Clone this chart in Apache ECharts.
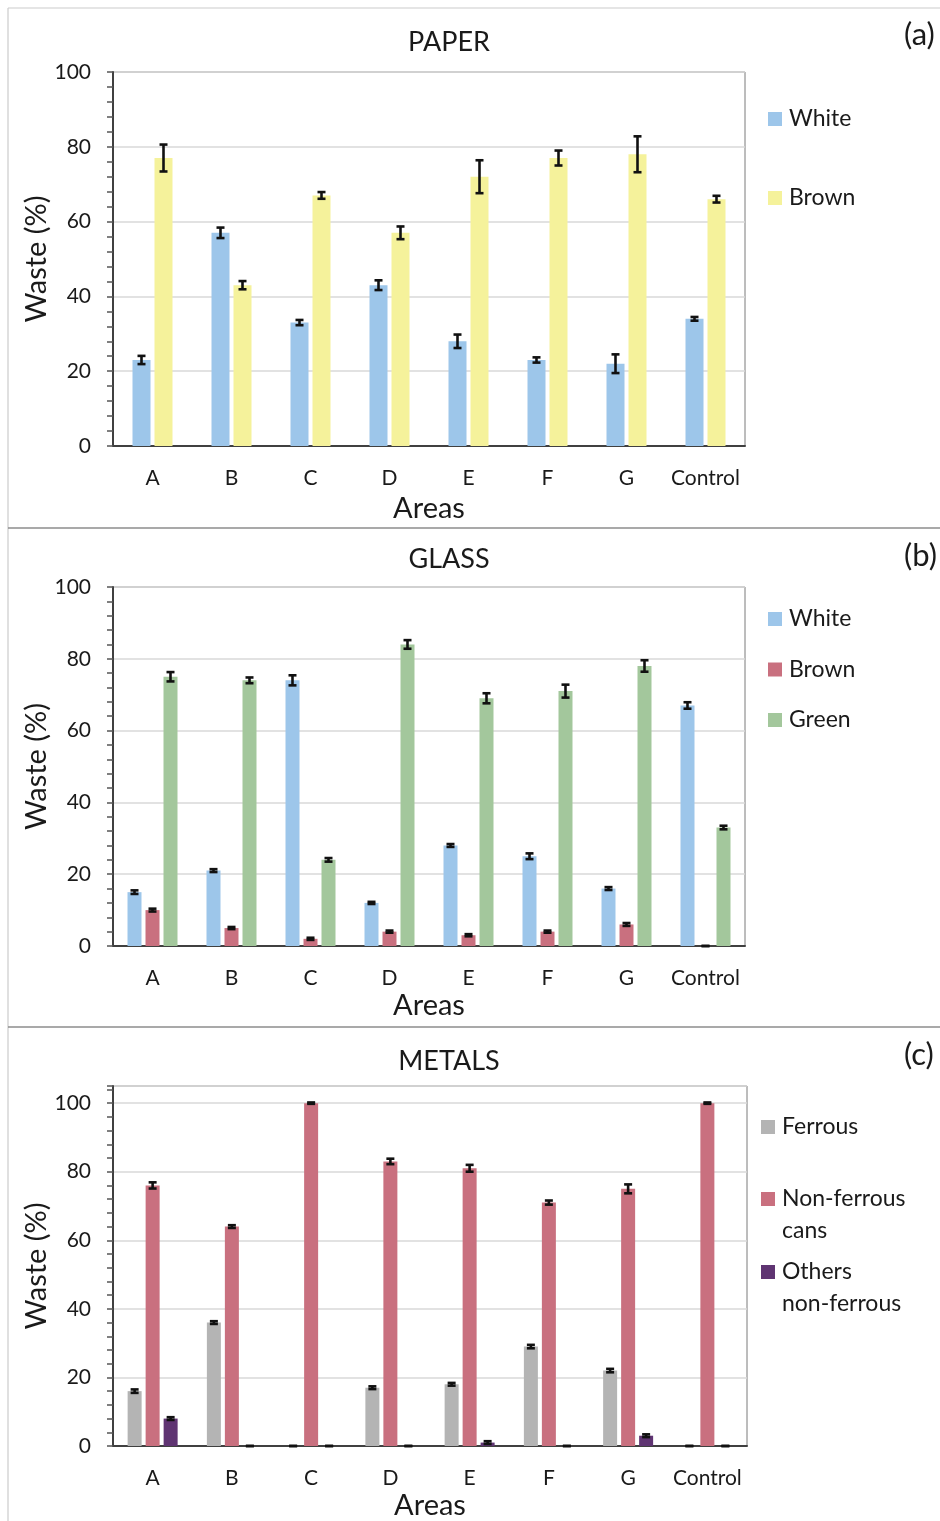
<!DOCTYPE html>
<html>
<head>
<meta charset="utf-8">
<script src="https://cdn.jsdelivr.net/npm/echarts@6/dist/echarts.min.js"></script>
<style>
html,body{margin:0;padding:0;background:#fff;}
#chart{width:940px;height:1521px;}
</style>
</head>
<body>
<div id="chart"></div>
<script>
// ---------- data ----------
const categories = ['A', 'B', 'C', 'D', 'E', 'F', 'G', 'Control'];
const yTicks = [0, 20, 40, 60, 80, 100];

// (a) PAPER
const paperWhite    = [23, 57, 33, 43, 28, 23, 22, 34];
const paperWhiteErr = [1.1, 1.4, 0.7, 1.3, 1.8, 0.7, 2.5, 0.5];
const paperBrown    = [77, 43, 67, 57, 72, 77, 78, 66];
const paperBrownErr = [3.6, 1.1, 0.9, 1.7, 4.4, 2.0, 4.8, 0.9];

// (b) GLASS
const glassWhite    = [15, 21, 74, 12, 28, 25, 16, 67];
const glassWhiteErr = [0.5, 0.4, 1.4, 0.3, 0.4, 0.8, 0.4, 0.9];
const glassBrown    = [10, 5, 2, 4, 3, 4, 6, 0];
const glassBrownErr = [0.4, 0.3, 0.3, 0.3, 0.3, 0.3, 0.4, 0];
const glassGreen    = [75, 74, 24, 84, 69, 71, 78, 33];
const glassGreenErr = [1.3, 0.8, 0.5, 1.2, 1.4, 1.8, 1.6, 0.5];

// (c) METALS
const metalFerrous    = [16, 36, 0, 17, 18, 29, 22, 0];
const metalFerrousErr = [0.5, 0.4, 0, 0.4, 0.4, 0.5, 0.5, 0];
const metalNonFerrous    = [76, 64, 100, 83, 81, 71, 75, 100];
const metalNonFerrousErr = [0.9, 0.4, 0.2, 0.8, 1.0, 0.6, 1.3, 0.2];
const metalOthers    = [8, 0, 0, 0, 1, 0, 3, 0];
const metalOthersErr = [0.4, 0, 0, 0, 0.4, 0, 0.4, 0];

// ---------- styling ----------
const FONT = 'Lato, "Open Sans", sans-serif';
const TXT = '#1a1a1a';
const colors = {
  paleBlue: '#9dc6ea',
  paleYellow: '#f5f29b',
  rose: '#c9707f',
  sage: '#a3c79c',
  gray: '#b4b4b4',
  purple: '#5f3472'
};

const panels = [
  { key: 'a', title: 'PAPER', top: 72, height: 374, right: 195, max: 100, barW: 18, gap: 4,
    legendLeft: 768, legendTop: 106, legendGap: 53,
    series: [
      { name: 'a:White', label: 'White', data: paperWhite, err: paperWhiteErr, color: colors.paleBlue },
      { name: 'a:Brown', label: 'Brown', data: paperBrown, err: paperBrownErr, color: colors.paleYellow }
    ]},
  { key: 'b', title: 'GLASS', top: 587, height: 359, right: 195, max: 100, barW: 14, gap: 4,
    legendLeft: 768, legendTop: 606, legendGap: 24.5,
    series: [
      { name: 'b:White', label: 'White', data: glassWhite, err: glassWhiteErr, color: colors.paleBlue },
      { name: 'b:Brown', label: 'Brown', data: glassBrown, err: glassBrownErr, color: colors.rose },
      { name: 'b:Green', label: 'Green', data: glassGreen, err: glassGreenErr, color: colors.sage }
    ]},
  { key: 'c', title: 'METALS', top: 1086, height: 360, right: 193, max: 105, barW: 14, gap: 4,
    legendLeft: 761,
    series: [
      { name: 'c:Ferrous', label: 'Ferrous', data: metalFerrous, err: metalFerrousErr, color: colors.gray, lTop: 1111 },
      { name: 'c:Non-ferrous cans', label: '\nNon-ferrous\ncans', data: metalNonFerrous, err: metalNonFerrousErr, color: colors.rose, lTop: 1151 },
      { name: 'c:Others non-ferrous', label: '\nOthers\nnon-ferrous', data: metalOthers, err: metalOthersErr, color: colors.purple, lTop: 1224 }
    ]}
];

function errRender(n, idx, barW, gap) {
  return function (params, api) {
    const x = api.value(0), y = api.value(1), e = api.value(2);
    const base = api.coord([x, y]);
    const total = n * barW + (n - 1) * gap;
    const cx = base[0] - total / 2 + barW / 2 + idx * (barW + gap);
    const hi = api.coord([x, y + e])[1];
    const lo = api.coord([x, Math.max(0, y - e)])[1];
    const cap = 4;
    const st = { stroke: '#111', lineWidth: 2.6 };
    return {
      type: 'group',
      children: [
        { type: 'line', shape: { x1: cx, y1: hi, x2: cx, y2: lo }, style: st },
        { type: 'line', shape: { x1: cx - cap, y1: hi, x2: cx + cap, y2: hi }, style: st },
        { type: 'line', shape: { x1: cx - cap, y1: lo, x2: cx + cap, y2: lo }, style: st }
      ]
    };
  };
}

const grid = [], xAxis = [], yAxis = [], series = [], legend = [], graphic = [];
const nameMap = {};

panels.forEach((p, gi) => {
  grid.push({ left: 113, right: p.right, top: p.top, height: p.height, show: true,
    borderColor: '#7a7a7a', borderWidth: 1, backgroundColor: 'transparent' });
  xAxis.push({
    type: 'category', gridIndex: gi, data: categories,
    axisLine: { lineStyle: { color: '#404040', width: 2 } },
    axisTick: { show: false },
    axisLabel: { color: TXT, fontSize: 21, fontFamily: FONT, margin: 22, interval: 0 },
    name: 'Areas', nameLocation: 'middle', nameGap: gi === 0 ? 48 : 45, nameMoveOverlap: false,
    nameTextStyle: { color: TXT, fontSize: 29, fontFamily: FONT }
  });
  yAxis.push({
    type: 'value', gridIndex: gi, min: 0, max: p.max, interval: 4,
    axisLine: { show: true, lineStyle: { color: '#404040', width: 2 } },
    axisTick: { show: true, length: 6, lineStyle: { color: '#555', width: 1.5 } },
    axisLabel: { color: TXT, fontSize: 21, fontFamily: FONT, margin: 22,
      formatter: v => (yTicks.indexOf(v) >= 0 ? String(v) : '') },
    splitLine: { show: false },
    name: 'Waste (%)', nameLocation: 'middle', nameGap: 62, nameRotate: 90, nameMoveOverlap: false,
    nameTextStyle: { color: TXT, fontSize: 29, fontFamily: FONT }
  });
  yAxis.push({
    type: 'value', gridIndex: gi, min: 0, max: p.max, interval: 20,
    axisLine: { show: false }, axisTick: { show: false }, axisLabel: { show: false },
    splitLine: { show: true, lineStyle: { color: '#d9d9d9', width: 1.5 } }
  });
  const n = p.series.length;
  p.series.forEach((s, si) => {
    nameMap[s.name] = s.label;
    series.push({
      type: 'bar', name: s.name, xAxisIndex: gi, yAxisIndex: gi * 2,
      data: s.data, barWidth: p.barW, barGap: (p.gap / p.barW * 100) + '%',
      itemStyle: { color: s.color }, z: 2, silent: true
    });
    series.push({
      type: 'custom', name: s.name + ' err', xAxisIndex: gi, yAxisIndex: gi * 2,
      data: categories.map((c, i) => [i, s.data[i], s.err[i]]),
      encode: { x: 0, y: 1 },
      renderItem: errRender(n, si, p.barW, p.gap), z: 5, silent: true
    });
  });
  const legendBase = {
    orient: 'vertical', icon: 'rect', itemWidth: 14, itemHeight: 14, padding: 0,
    selectedMode: false, left: p.legendLeft,
    formatter: name => nameMap[name]
  };
  if (gi < 2) {
    legend.push(Object.assign({}, legendBase, {
      top: p.legendTop, itemGap: p.legendGap, data: p.series.map(s => s.name),
      textStyle: { color: TXT, fontSize: 23, fontFamily: FONT, lineHeight: 26, padding: [0, 0, 0, 2] }
    }));
  } else {
    p.series.forEach(s => {
      legend.push(Object.assign({}, legendBase, {
        top: s.lTop, data: [s.name],
        textStyle: { color: TXT, fontSize: 23, fontFamily: FONT, lineHeight: 32, padding: [0, 0, 0, 2] }
      }));
    });
  }
});

const titleY = [42, 559, 1061];
const tagY = [35, 556, 1055];
panels.forEach((p, i) => {
  graphic.push({ type: 'text', x: 449, y: titleY[i], style: { text: p.title, fill: TXT,
    font: '27px ' + FONT, textAlign: 'center', textVerticalAlign: 'middle' } });
  graphic.push({ type: 'text', x: 904, y: tagY[i], style: { text: '(' + p.key + ')', fill: TXT,
    font: '31px ' + FONT, textAlign: 'left', textVerticalAlign: 'middle' } });
});
graphic.push({ type: 'line', shape: { x1: 8, y1: 8, x2: 940, y2: 8 }, style: { stroke: '#cccccc', lineWidth: 1.2 } });
graphic.push({ type: 'line', shape: { x1: 8, y1: 8, x2: 8, y2: 1521 }, style: { stroke: '#cccccc', lineWidth: 1.2 } });
graphic.push({ type: 'line', shape: { x1: 8, y1: 528, x2: 940, y2: 528 }, style: { stroke: '#8c8c8c', lineWidth: 1.5 } });
graphic.push({ type: 'line', shape: { x1: 8, y1: 1027, x2: 940, y2: 1027 }, style: { stroke: '#8c8c8c', lineWidth: 1.5 } });

const chart = echarts.init(document.getElementById('chart'), null, { renderer: 'canvas' });
chart.setOption({
  animation: false,
  backgroundColor: '#ffffff',
  textStyle: { fontFamily: FONT },
  grid, xAxis, yAxis, series, legend, graphic
});
</script>
</body>
</html>
